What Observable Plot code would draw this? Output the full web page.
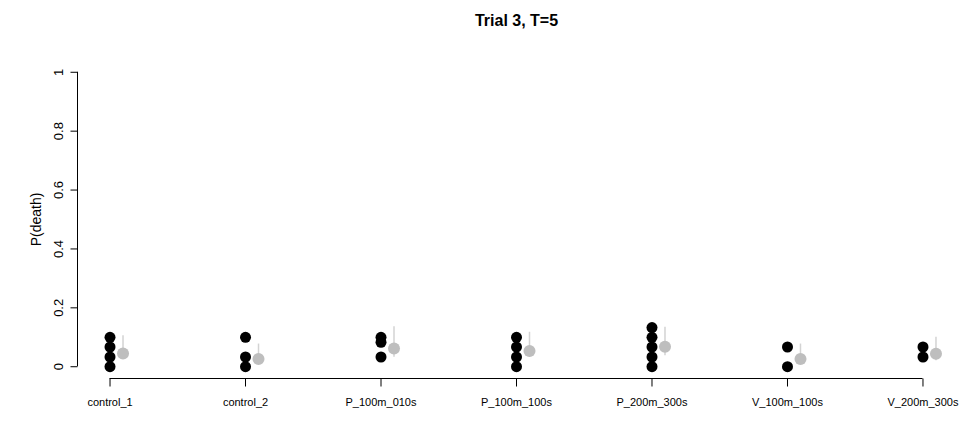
<!DOCTYPE html>
<html>
<head>
<meta charset="utf-8">
<script src="https://cdn.jsdelivr.net/npm/d3@7"></script>
<script src="https://cdn.jsdelivr.net/npm/@observablehq/plot@0.6"></script>
<style>
  body { margin: 0; background: #fff; }
  svg { font-family: "Liberation Sans", Arial, sans-serif; }
</style>
</head>
<body>
<div id="chart"></div>
<script>
const groups = ["control_1", "control_2", "P_100m_010s", "P_100m_100s", "P_200m_300s", "V_100m_100s", "V_200m_300s"];
const replicateValues = [
  [0, 0.033, 0.067, 0.1],
  [0, 0.033, 0.1],
  [0.033, 0.083, 0.1],
  [0, 0.033, 0.067, 0.1],
  [0, 0.033, 0.067, 0.1, 0.133],
  [0, 0.067],
  [0.033, 0.067]
];
const meanValues = [0.045, 0.026, 0.062, 0.053, 0.068, 0.026, 0.044];
const lowerValues = [0.027, 0.008, 0.032, 0.032, 0.037, 0.008, 0.02];
const upperValues = [0.105, 0.077, 0.136, 0.117, 0.134, 0.077, 0.1];
const yTicks = [0, 0.2, 0.4, 0.6, 0.8, 1];
const xTicks = [1, 2, 3, 4, 5, 6, 7];
const titleText = "Trial 3, T=5";
const yLabel = "P(death)";

const W = 970, H = 421, mL = 77, mR = 15, mT = 60, mB = 43;
const xDom = [0.76, 7.24], yDom = [-0.04, 1.04];
// tick lengths converted to data units of each scale
const tickLenX = 7 * (xDom[1] - xDom[0]) / (W - mL - mR);
const tickLenY = 8 * (yDom[1] - yDom[0]) / (H - mT - mB);

const reps = replicateValues.flatMap((vals, i) => vals.map(v => ({g: i + 1, v})));
const summ = groups.map((name, i) => ({g: i + 1, m: meanValues[i], lo: lowerValues[i], hi: upperValues[i]}));

const chart = Plot.plot({
  width: W,
  height: H,
  marginLeft: mL,
  marginRight: mR,
  marginTop: mT,
  marginBottom: mB,
  style: {fontFamily: "Liberation Sans, Arial, sans-serif", fontSize: "11px", background: "#fff"},
  x: {type: "linear", domain: xDom, axis: null},
  y: {type: "linear", domain: yDom, axis: null},
  marks: [
    // y axis line + ticks + labels
    Plot.ruleX([xDom[0]], {y1: 0, y2: 1, stroke: "#000", strokeWidth: 1}),
    Plot.link(yTicks, {x1: () => xDom[0] - tickLenX, x2: () => xDom[0], y1: d => d, y2: d => d, stroke: "#000", strokeWidth: 1}),
    Plot.text(yTicks, {y: d => d, frameAnchor: "left", dx: -19, rotate: -90, textAnchor: "middle", text: d => String(d), fontSize: 13, fill: "#000"}),
    Plot.text([yLabel], {frameAnchor: "left", dx: -41, rotate: -90, textAnchor: "middle", fontSize: 14, fill: "#000"}),
    // x axis line + ticks + labels
    Plot.ruleY([yDom[0]], {x1: 1, x2: 7, stroke: "#000", strokeWidth: 1}),
    Plot.link(xTicks, {x1: d => d, x2: d => d, y1: () => yDom[0], y2: () => yDom[0] - tickLenY, stroke: "#000", strokeWidth: 1}),
    Plot.text(xTicks, {x: d => d, frameAnchor: "bottom", dy: 27, text: i => groups[i - 1], fontSize: 11, fill: "#000"}),
    // title
    Plot.text([titleText], {frameAnchor: "top", dy: -40, lineAnchor: "middle", fontSize: 16, fontWeight: "bold", fill: "#000"}),
    // replicate dots
    Plot.dot(reps, {x: "g", y: "v", r: 5.5, fill: "#000", stroke: null}),
    // error bars
    Plot.ruleX(summ, {x: "g", y1: "lo", y2: "hi", dx: 13, stroke: "#d3d3d3", strokeWidth: 1.5}),
    // means
    Plot.dot(summ, {x: "g", y: "m", dx: 13, r: 6, fill: "#bebebe", stroke: null})
  ]
});
document.getElementById("chart").append(chart);
</script>
</body>
</html>
